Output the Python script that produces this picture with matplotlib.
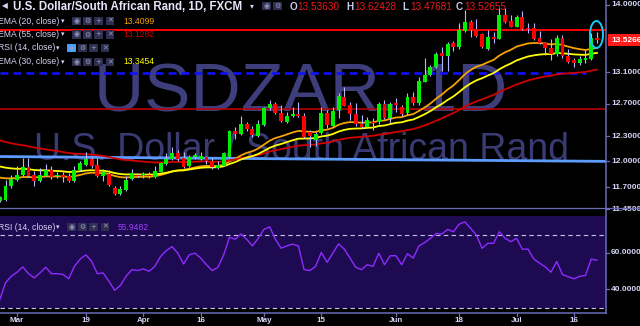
import numpy as np
import pandas as pd
import matplotlib
matplotlib.use('Agg')
import matplotlib.pyplot as plt
import matplotlib.transforms as mtransforms
from matplotlib.patches import Rectangle, Ellipse
from matplotlib.lines import Line2D

plt.rcParams['font.family'] = ['Liberation Sans', 'DejaVu Sans']

# ---------------- data ----------------
dates = pd.bdate_range('2018-02-26', '2018-07-20')

opens = [11.545, 11.548, 11.712, 11.785, 11.843, 11.928, 11.843, 11.766, 11.831, 11.901,
         11.830, 11.844, 11.831, 11.766, 11.893, 11.959, 12.026, 11.959, 11.823, 11.854,
         11.689, 11.624, 11.670, 11.792, 11.840, 11.838, 11.843, 11.816, 11.878, 11.967,
         12.030, 12.097, 12.038, 11.940, 12.050, 12.026, 12.050, 12.000, 11.920, 11.948,
         12.050, 12.361, 12.329, 12.450, 12.386, 12.309, 12.439, 12.645, 12.700, 12.582,
         12.479, 12.549, 12.574, 12.549, 12.346, 12.250, 12.340, 12.586, 12.426, 12.617,
         12.780, 12.682, 12.574, 12.451, 12.418, 12.480, 12.480, 12.697, 12.520, 12.700,
         12.660, 12.582, 12.783, 12.705, 12.980, 13.064, 13.172, 13.350, 13.310, 13.480,
         13.430, 13.643, 13.770, 13.665, 13.600, 13.403, 13.550, 13.540, 13.859, 13.777,
         13.700, 13.836, 13.670, 13.680, 13.549, 13.482, 13.416, 13.337, 13.555, 13.311,
         13.258, 13.220, 13.258, 13.270, 13.53630]
highs = [11.600, 11.785, 11.843, 11.948, 12.042, 12.042, 11.881, 11.920, 11.971, 11.940,
         11.880, 11.875, 11.866, 11.940, 12.010, 12.117, 12.057, 12.038, 11.909, 11.901,
         11.716, 11.709, 11.823, 11.909, 11.862, 11.880, 11.870, 11.940, 11.990, 12.097,
         12.170, 12.137, 12.117, 12.077, 12.105, 12.110, 12.066, 12.038, 11.999, 12.117,
         12.374, 12.410, 12.550, 12.480, 12.420, 12.500, 12.665, 12.747, 12.726, 12.685,
         12.602, 12.665, 12.726, 12.582, 12.374, 12.355, 12.660, 12.623, 12.665, 12.835,
         12.910, 12.720, 12.712, 12.560, 12.530, 12.520, 12.720, 12.747, 12.726, 12.770,
         12.680, 12.840, 12.853, 13.035, 13.284, 13.193, 13.359, 13.430, 13.490, 13.510,
         13.745, 13.927, 13.790, 13.800, 13.620, 13.650, 13.635, 13.964, 13.950, 13.859,
         13.859, 13.920, 13.745, 13.745, 13.636, 13.500, 13.535, 13.590, 13.590, 13.400,
         13.280, 13.311, 13.390, 13.610, 13.62428]
lows = [11.530, 11.537, 11.693, 11.766, 11.831, 11.811, 11.716, 11.755, 11.823, 11.793,
        11.800, 11.758, 11.755, 11.755, 11.881, 11.948, 11.920, 11.816, 11.766, 11.709,
        11.609, 11.613, 11.658, 11.785, 11.816, 11.800, 11.800, 11.800, 11.870, 11.959,
        12.018, 12.010, 11.920, 11.932, 12.022, 12.018, 11.971, 11.913, 11.909, 11.940,
        12.038, 12.267, 12.321, 12.365, 12.297, 12.297, 12.426, 12.623, 12.574, 12.479,
        12.467, 12.541, 12.541, 12.277, 12.174, 12.180, 12.330, 12.400, 12.418, 12.520,
        12.670, 12.504, 12.420, 12.400, 12.400, 12.380, 12.451, 12.508, 12.460, 12.600,
        12.550, 12.560, 12.685, 12.685, 12.970, 13.050, 13.150, 13.120, 13.110, 13.370,
        13.400, 13.630, 13.562, 13.557, 13.413, 13.390, 13.480, 13.530, 13.755, 13.700,
        13.690, 13.656, 13.616, 13.525, 13.470, 13.330, 13.258, 13.311, 13.285, 13.223,
        13.170, 13.200, 13.220, 13.258, 13.47681]
closes = [11.590, 11.716, 11.795, 11.843, 11.928, 11.823, 11.766, 11.843, 11.901, 11.811,
          11.845, 11.818, 11.766, 11.901, 11.980, 12.026, 11.948, 11.823, 11.870, 11.728,
          11.624, 11.681, 11.777, 11.862, 11.826, 11.845, 11.823, 11.881, 11.975, 12.030,
          12.097, 12.030, 11.936, 12.050, 12.077, 12.058, 12.000, 11.928, 11.959, 12.097,
          12.361, 12.329, 12.450, 12.385, 12.313, 12.451, 12.645, 12.700, 12.582, 12.490,
          12.549, 12.574, 12.549, 12.297, 12.305, 12.330, 12.586, 12.440, 12.611, 12.792,
          12.678, 12.572, 12.451, 12.418, 12.499, 12.460, 12.697, 12.520, 12.697, 12.690,
          12.572, 12.783, 12.707, 12.987, 13.064, 13.172, 13.337, 13.313, 13.470, 13.430,
          13.655, 13.770, 13.656, 13.575, 13.427, 13.557, 13.540, 13.859, 13.768, 13.700,
          13.836, 13.669, 13.665, 13.535, 13.482, 13.416, 13.337, 13.555, 13.305, 13.236,
          13.223, 13.270, 13.285, 13.545, 13.52655]

rsi = [34.4, 43.6, 47.2, 49.4, 52.3, 48.6, 46.3, 49.0, 52.1, 48.6, 48.6,
       48.2, 45.8, 52.6, 56.6, 58.9, 55.3, 48.6, 49.0, 44.5, 39.5,
       42.2, 47.2, 50.8, 50.3, 51.2, 49.9, 52.6, 58.0, 61.2, 63.4,
       59.8, 53.9, 58.9, 59.8, 57.1, 53.5, 50.3, 52.1, 58.9, 68.5,
       67.4, 70.3, 67.4, 63.8, 67.9, 72.8, 74.2, 67.4, 62.5, 63.8,
       64.7, 63.8, 50.8, 50.3, 52.6, 60.2, 54.8, 59.8, 64.9, 62.0,
       57.1, 52.1, 50.8, 53.5, 52.6, 59.8, 53.5, 58.4, 58.4, 53.5,
       59.5, 57.1, 63.8, 65.6, 67.9, 70.6, 70.3, 72.8, 71.5, 75.7,
       76.9, 73.4, 69.7, 62.5, 65.2, 65.2, 71.5, 67.9, 66.1, 67.9,
       62.0, 62.0, 56.6, 54.4, 52.3, 49.4, 55.3, 48.1, 46.9, 45.8,
       47.2, 47.6, 56.6, 55.9482]

# EMA values on the first visible bar (history before it is off-screen)
ema_periods = [20, 55, 30]
ema_start = [11.81, 12.25, 11.94]
ema_colors = ['#f5a300', '#d00000', '#ffff00']

# drawn levels
red_level = 13.66
blue_dashed_level = 13.09
darkred_level = 12.63
trend_line = [12.057, 12.0]  # light blue line, left and right edge

price_ticks = [14.0, 13.1, 12.7, 12.3, 12.0, 11.7, 11.45]
rsi_ticks = [60, 40]
tick_dates = ['2018-03-01', '2018-03-19', '2018-04-02', '2018-04-16', '2018-05-01',
              '2018-05-15', '2018-06-01', '2018-06-18', '2018-07-02', '2018-07-16']
tick_labels = ['Mar', '19', 'Apr', '16', 'May', '15', 'Jun', '18', 'Jul', '16']

# ---------------- layout helpers (pixels) ----------------
W, H = 640, 326
def fx(x): return x / W
def fy(y): return 1 - y / H

BAR_PX = 5.742
BAR0_PX = -0.222
AX_RIGHT = 605.5

BG = 'black'
AXC = '#6a6ab8'
TXT = '#d4d4f4'

fig = plt.figure(figsize=(6.4, 3.26), dpi=100, facecolor=BG)
ax = fig.add_axes([0, fy(207), fx(AX_RIGHT), 207 / H])
axr = fig.add_axes([0, fy(313), fx(AX_RIGHT), (313 - 208) / H])
for a in (ax, axr):
    a.set_facecolor(BG)
    a.set_xticks([])
    a.set_yticks([])
    for s in a.spines.values():
        s.set_visible(False)
    a.set_xlim((0 - BAR0_PX) / BAR_PX, (AX_RIGHT - BAR0_PX) / BAR_PX)

x = np.arange(len(dates))
o = np.array(opens); h = np.array(highs); l = np.array(lows); c = np.array(closes)

ax.set_yscale('log')
ax.set_ylim(11.473, 14.065)
ax.yaxis.set_minor_locator(matplotlib.ticker.NullLocator())
ax.yaxis.set_major_locator(matplotlib.ticker.NullLocator())

# watermark
ax.text(fx(301), fy(111), 'USDZAR, 1D', transform=fig.transFigure, fontsize=50,
        color='#3e3e7c', ha='center', va='baseline', zorder=0.2)
ax.text(fx(302), fy(160), 'U.S. Dollar / South African Rand', transform=fig.transFigure,
        fontsize=27, color='#3a3a74', ha='center', va='baseline', zorder=0.2)

# drawn levels
ax.axhline(red_level, color='#ff0000', lw=1.4, zorder=1)
ax.axhline(darkred_level, color='#c40000', lw=1.1, zorder=1)
ax.plot([ax.get_xlim()[0], (586 - BAR0_PX) / BAR_PX], [blue_dashed_level] * 2,
        color='#1010ff', lw=1.9, dashes=(3.0, 1.9), zorder=1)
ax.plot(ax.get_xlim(), trend_line, color='#5c9cff', lw=2.0, zorder=1)

# EMAs
for n, s0, col in zip(ema_periods, ema_start, ema_colors):
    alpha = 2 / (n + 1)
    e = [s0]
    for v in c[1:]:
        e.append(e[-1] + alpha * (v - e[-1]))
    ax.plot(x, e, color=col, lw=1.3, zorder=2)

# candles
up = c >= o
cols = np.where(up, '#00ee00', '#ff0000')
ax.vlines(x, l, h, colors='#b8b8ff', lw=0.8, zorder=3)
bot = np.minimum(o, c)
hgt = np.maximum(np.abs(c - o), bot * 0.0012)
ax.bar(x, hgt, bottom=bot, width=0.68, color=cols, linewidth=0, zorder=4)

# cyan marker around the last bar
fig.add_artist(Ellipse((fx(596.5), fy(34.5)), fx(13), 27 / H, fill=False,
                       edgecolor='#18c8f0', lw=1.4))

# RSI pane
axr.set_ylim(27.1, 84.5)
axr.axhspan(30, 80, color='#1d0a50', lw=0, zorder=0)
for lvl in (70, 30):
    axr.axhline(lvl, color='#c4c4ee', lw=0.8, dashes=(4, 3), zorder=1)
axr.plot(x, rsi, color='#8e2cff', lw=1.0, zorder=2)

# axis lines
fig.add_artist(Line2D([fx(AX_RIGHT)] * 2, [fy(0), fy(313)], color=AXC, lw=1.1))
fig.add_artist(Line2D([0, 1], [fy(207.5)] * 2, color=AXC, lw=0.9))
fig.add_artist(Line2D([0, fx(AX_RIGHT)], [fy(313)] * 2, color=AXC, lw=1.1))

# right price labels
tr = mtransforms.blended_transform_factory(fig.transFigure, ax.transData)
for p in price_ticks:
    ax.plot([fx(AX_RIGHT), fx(609)], [p, p], color=AXC, lw=0.9, transform=tr, clip_on=False)
    ax.text(fx(611), p, f'{p:.4f}', transform=tr, fontsize=6, fontweight='bold',
            color=TXT, va='center', ha='left', clip_on=False)
trr = mtransforms.blended_transform_factory(fig.transFigure, axr.transData)
for p in rsi_ticks:
    axr.plot([fx(AX_RIGHT), fx(609)], [p, p], color=AXC, lw=0.9, transform=trr, clip_on=False)
    axr.text(fx(611), p, f'{p:.4f}', transform=trr, fontsize=6, fontweight='bold',
             color=TXT, va='center', ha='left', clip_on=False)

# last price tag
fig.add_artist(Rectangle((fx(608), fy(46)), fx(32), 12 / H, color='#ff1a1a', lw=0))
fig.text(fx(611), fy(40), f'{closes[-1]:.4f}', fontsize=6, fontweight='bold',
         color='white', va='center', ha='left')

# x labels
trx = mtransforms.blended_transform_factory(axr.transData, fig.transFigure)
for d, lab in zip(tick_dates, tick_labels):
    xi = dates.get_loc(pd.Timestamp(d))
    axr.plot([xi, xi], [fy(313), fy(316)], color=AXC, lw=0.9, transform=trx, clip_on=False)
    axr.text(xi, fy(321), lab, transform=trx, fontsize=5.8, fontweight='bold',
             color=TXT, ha='center', va='center', clip_on=False)


# ---------------- header legends ----------------
def icon_boxes(x0, y, n=4, hi=None, step=11.2):
    glyphs = ['\u25c9', '\u2699', '+', '\u2715']
    for k in range(n):
        bx = x0 + k * step
        fc = '#3aa0ff' if hi == k else '#2e2e4e'
        fig.add_artist(Rectangle((fx(bx), fy(y + 4.3)), fx(8.6), 8.6 / H, color=fc, lw=0))
        fig.text(fx(bx + 4.3), fy(y), glyphs[k], fontsize=5, color='#9a9ac0',
                 ha='center', va='center', family=['DejaVu Sans'])


fig.text(fx(2), fy(6), '\u25c0', fontsize=5.5, color=TXT, va='center', family=['DejaVu Sans'])
fig.text(fx(13), fy(6.5), 'U.S. Dollar/South African Rand, 1D, FXCM', fontsize=8.3,
         fontweight='bold', color='#e6e6fa', va='center')
fig.text(fx(250), fy(6), '\u25be', fontsize=5.5, color=TXT, va='center', family=['DejaVu Sans'])
icon_boxes(262, 6, n=2)
ohlc = [('O', 289.5, opens[-1]), ('H', 346, highs[-1]), ('L', 402, lows[-1]), ('C', 456, closes[-1])]
for key, px, val in ohlc:
    fig.text(fx(px), fy(6.5), key, fontsize=7.2, fontweight='bold', color='#c8c8f0', va='center')
    fig.text(fx(px + 8), fy(6.5), f'{val:.5f}', fontsize=7.2, color='#ee1c1c', va='center')

legend_rows = [('EMA (20, close)', 21, 72, None, '13.4099', '#f5a300'),
               ('EMA (55, close)', 34.5, 72, None, '13.1282', '#c80000'),
               ('RSI (14, close)', 48, 67, 0, '', TXT),
               ('EMA (30, close)', 62, 72, None, '13.3454', '#ffff00')]
for name, y, bx, hi, val, vc in legend_rows:
    fig.text(fx(-1.5), fy(y), name, fontsize=6.2, color=TXT, va='center')
    fig.text(fx(bx - 11), fy(y), '\u25be', fontsize=5, color=TXT, va='center', family=['DejaVu Sans'])
    icon_boxes(bx, y, hi=hi)
    if val:
        fig.text(fx(123), fy(y), val, fontsize=6.2, color=vc, va='center')

fig.text(fx(-1.5), fy(227), 'RSI (14, close)', fontsize=6.2, color=TXT, va='center')
fig.text(fx(56), fy(227), '\u25be', fontsize=5, color=TXT, va='center', family=['DejaVu Sans'])
icon_boxes(67, 227)
fig.text(fx(118), fy(227), f'{rsi[-1]:.4f}', fontsize=6.2, color='#9a40ff', va='center')

fig.savefig('out.png', dpi=100, facecolor=BG)
print('saved out.png')
